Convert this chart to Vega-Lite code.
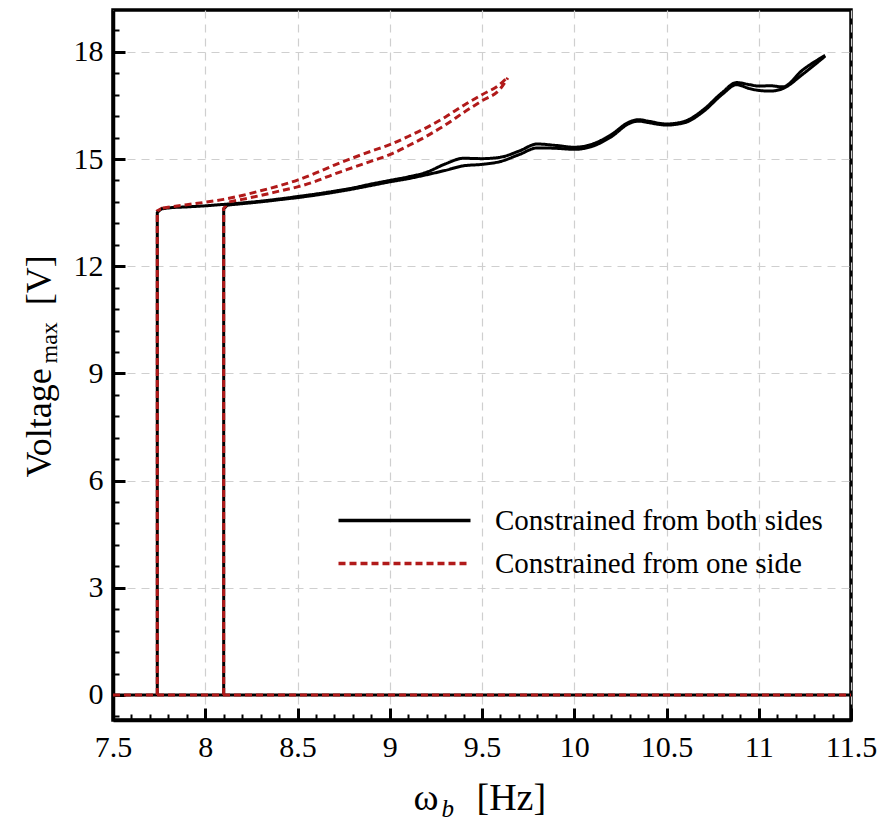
{
  "$schema": "https://vega.github.io/schema/vega-lite/v6.json",
  "width": 738,
  "height": 710,
  "autosize": {"type": "none"},
  "padding": {"left": 113, "top": 10, "right": 34, "bottom": 105},
  "background": "white",
  "config": {
    "font": "Liberation Serif",
    "view": {"stroke": "black", "strokeWidth": 3.5},
    "style": {"guide-label": {"font": "Liberation Serif"}, "guide-title": {"font": "Liberation Serif"}},
    "axis": {
      "labelFont": "Liberation Serif",
      "labelFontSize": 30,
      "labelColor": "black",
      "labelFlush": false,
      "labelOverlap": false,
      "titleFont": "Liberation Serif",
      "titleFontWeight": "normal",
      "titleColor": "black",
      "tickColor": "black",
      "domainColor": "black",
      "gridColor": "#cfcfcf",
      "gridDash": [8, 6],
      "gridWidth": 1.2
    },
    "legend": {
      "labelFont": "Liberation Serif",
      "labelFontSize": 29,
      "labelColor": "black",
      "labelLimit": 0
    }
  },
  "datasets": {
    "curves": [
      {"t": "Constrained from both sides", "s": "v", "b": "B0", "o": 0, "x": 7.5, "y": 0},
      {"t": "Constrained from both sides", "s": "v", "b": "B0", "o": 1, "x": 11.5, "y": 0},
      {"t": "Constrained from both sides", "s": "v", "b": "V1", "o": 0, "x": 7.74, "y": 0},
      {"t": "Constrained from both sides", "s": "v", "b": "V1", "o": 1, "x": 7.74, "y": 13.5},
      {"t": "Constrained from both sides", "s": "v", "b": "V1", "o": 2, "x": 7.76, "y": 13.6},
      {"t": "Constrained from both sides", "s": "v", "b": "V2", "o": 0, "x": 8.1, "y": 0},
      {"t": "Constrained from both sides", "s": "v", "b": "V2", "o": 1, "x": 8.1, "y": 13.6},
      {"t": "Constrained from both sides", "s": "v", "b": "V2", "o": 2, "x": 8.12, "y": 13.71},
      {"t": "Constrained from both sides", "s": "c", "b": "B1", "o": 3, "x": 7.76, "y": 13.6},
      {"t": "Constrained from both sides", "s": "c", "b": "B1", "o": 4, "x": 7.8, "y": 13.63},
      {"t": "Constrained from both sides", "s": "c", "b": "B1", "o": 5, "x": 7.9, "y": 13.66},
      {"t": "Constrained from both sides", "s": "c", "b": "B1", "o": 6, "x": 8.0, "y": 13.69},
      {"t": "Constrained from both sides", "s": "c", "b": "B1", "o": 7, "x": 8.1, "y": 13.73},
      {"t": "Constrained from both sides", "s": "c", "b": "B1", "o": 8, "x": 8.2, "y": 13.77},
      {"t": "Constrained from both sides", "s": "c", "b": "B1", "o": 9, "x": 8.3, "y": 13.82},
      {"t": "Constrained from both sides", "s": "c", "b": "B1", "o": 10, "x": 8.4, "y": 13.88},
      {"t": "Constrained from both sides", "s": "c", "b": "B1", "o": 11, "x": 8.5, "y": 13.95},
      {"t": "Constrained from both sides", "s": "c", "b": "B1", "o": 12, "x": 8.6, "y": 14.02},
      {"t": "Constrained from both sides", "s": "c", "b": "B1", "o": 13, "x": 8.7, "y": 14.1},
      {"t": "Constrained from both sides", "s": "c", "b": "B1", "o": 14, "x": 8.8, "y": 14.19},
      {"t": "Constrained from both sides", "s": "c", "b": "B1", "o": 15, "x": 8.9, "y": 14.3},
      {"t": "Constrained from both sides", "s": "c", "b": "B1", "o": 16, "x": 9.0, "y": 14.4},
      {"t": "Constrained from both sides", "s": "c", "b": "B1", "o": 17, "x": 9.1, "y": 14.5},
      {"t": "Constrained from both sides", "s": "c", "b": "B1", "o": 18, "x": 9.2, "y": 14.63},
      {"t": "Constrained from both sides", "s": "c", "b": "B1", "o": 19, "x": 9.3, "y": 14.86},
      {"t": "Constrained from both sides", "s": "c", "b": "B1", "o": 20, "x": 9.4, "y": 15.02},
      {"t": "Constrained from both sides", "s": "c", "b": "B1", "o": 21, "x": 9.5, "y": 15.01},
      {"t": "Constrained from both sides", "s": "c", "b": "B1", "o": 22, "x": 9.6, "y": 15.05},
      {"t": "Constrained from both sides", "s": "c", "b": "B1", "o": 23, "x": 9.7, "y": 15.22},
      {"t": "Constrained from both sides", "s": "c", "b": "B1", "o": 24, "x": 9.8, "y": 15.42},
      {"t": "Constrained from both sides", "s": "c", "b": "B1", "o": 25, "x": 9.9, "y": 15.38},
      {"t": "Constrained from both sides", "s": "c", "b": "B1", "o": 26, "x": 10.0, "y": 15.33},
      {"t": "Constrained from both sides", "s": "c", "b": "B1", "o": 27, "x": 10.1, "y": 15.42},
      {"t": "Constrained from both sides", "s": "c", "b": "B1", "o": 28, "x": 10.2, "y": 15.68},
      {"t": "Constrained from both sides", "s": "c", "b": "B1", "o": 29, "x": 10.3, "y": 16.04},
      {"t": "Constrained from both sides", "s": "c", "b": "B1", "o": 30, "x": 10.35, "y": 16.1},
      {"t": "Constrained from both sides", "s": "c", "b": "B1", "o": 31, "x": 10.4, "y": 16.06},
      {"t": "Constrained from both sides", "s": "c", "b": "B1", "o": 32, "x": 10.5, "y": 15.98},
      {"t": "Constrained from both sides", "s": "c", "b": "B1", "o": 33, "x": 10.6, "y": 16.06},
      {"t": "Constrained from both sides", "s": "c", "b": "B1", "o": 34, "x": 10.7, "y": 16.38},
      {"t": "Constrained from both sides", "s": "c", "b": "B1", "o": 35, "x": 10.8, "y": 16.85},
      {"t": "Constrained from both sides", "s": "c", "b": "B1", "o": 36, "x": 10.88, "y": 17.14},
      {"t": "Constrained from both sides", "s": "c", "b": "B1", "o": 37, "x": 10.95, "y": 17.08},
      {"t": "Constrained from both sides", "s": "c", "b": "B1", "o": 38, "x": 11.0, "y": 17.04},
      {"t": "Constrained from both sides", "s": "c", "b": "B1", "o": 39, "x": 11.06, "y": 17.05},
      {"t": "Constrained from both sides", "s": "c", "b": "B1", "o": 40, "x": 11.13, "y": 17.02},
      {"t": "Constrained from both sides", "s": "c", "b": "B1", "o": 41, "x": 11.24, "y": 17.5},
      {"t": "Constrained from both sides", "s": "c", "b": "B1", "o": 42, "x": 11.36, "y": 17.9},
      {"t": "Constrained from both sides", "s": "c", "b": "B2", "o": 2, "x": 8.12, "y": 13.71},
      {"t": "Constrained from both sides", "s": "c", "b": "B2", "o": 3, "x": 8.2, "y": 13.75},
      {"t": "Constrained from both sides", "s": "c", "b": "B2", "o": 4, "x": 8.3, "y": 13.8},
      {"t": "Constrained from both sides", "s": "c", "b": "B2", "o": 5, "x": 8.4, "y": 13.86},
      {"t": "Constrained from both sides", "s": "c", "b": "B2", "o": 6, "x": 8.5, "y": 13.92},
      {"t": "Constrained from both sides", "s": "c", "b": "B2", "o": 7, "x": 8.6, "y": 13.99},
      {"t": "Constrained from both sides", "s": "c", "b": "B2", "o": 8, "x": 8.7, "y": 14.07},
      {"t": "Constrained from both sides", "s": "c", "b": "B2", "o": 9, "x": 8.8, "y": 14.16},
      {"t": "Constrained from both sides", "s": "c", "b": "B2", "o": 10, "x": 8.9, "y": 14.26},
      {"t": "Constrained from both sides", "s": "c", "b": "B2", "o": 11, "x": 9.0, "y": 14.36},
      {"t": "Constrained from both sides", "s": "c", "b": "B2", "o": 12, "x": 9.1, "y": 14.45},
      {"t": "Constrained from both sides", "s": "c", "b": "B2", "o": 13, "x": 9.2, "y": 14.56},
      {"t": "Constrained from both sides", "s": "c", "b": "B2", "o": 14, "x": 9.3, "y": 14.68},
      {"t": "Constrained from both sides", "s": "c", "b": "B2", "o": 15, "x": 9.4, "y": 14.81},
      {"t": "Constrained from both sides", "s": "c", "b": "B2", "o": 16, "x": 9.5, "y": 14.85},
      {"t": "Constrained from both sides", "s": "c", "b": "B2", "o": 17, "x": 9.6, "y": 14.93},
      {"t": "Constrained from both sides", "s": "c", "b": "B2", "o": 18, "x": 9.7, "y": 15.12},
      {"t": "Constrained from both sides", "s": "c", "b": "B2", "o": 19, "x": 9.8, "y": 15.31},
      {"t": "Constrained from both sides", "s": "c", "b": "B2", "o": 20, "x": 9.9, "y": 15.3},
      {"t": "Constrained from both sides", "s": "c", "b": "B2", "o": 21, "x": 10.0, "y": 15.27},
      {"t": "Constrained from both sides", "s": "c", "b": "B2", "o": 22, "x": 10.1, "y": 15.36},
      {"t": "Constrained from both sides", "s": "c", "b": "B2", "o": 23, "x": 10.2, "y": 15.62},
      {"t": "Constrained from both sides", "s": "c", "b": "B2", "o": 24, "x": 10.3, "y": 16.0},
      {"t": "Constrained from both sides", "s": "c", "b": "B2", "o": 25, "x": 10.35, "y": 16.06},
      {"t": "Constrained from both sides", "s": "c", "b": "B2", "o": 26, "x": 10.4, "y": 16.02},
      {"t": "Constrained from both sides", "s": "c", "b": "B2", "o": 27, "x": 10.5, "y": 15.95},
      {"t": "Constrained from both sides", "s": "c", "b": "B2", "o": 28, "x": 10.6, "y": 16.02},
      {"t": "Constrained from both sides", "s": "c", "b": "B2", "o": 29, "x": 10.7, "y": 16.33},
      {"t": "Constrained from both sides", "s": "c", "b": "B2", "o": 30, "x": 10.8, "y": 16.8},
      {"t": "Constrained from both sides", "s": "c", "b": "B2", "o": 31, "x": 10.88, "y": 17.08},
      {"t": "Constrained from both sides", "s": "c", "b": "B2", "o": 32, "x": 10.95, "y": 16.97},
      {"t": "Constrained from both sides", "s": "c", "b": "B2", "o": 33, "x": 11.0, "y": 16.92},
      {"t": "Constrained from both sides", "s": "c", "b": "B2", "o": 34, "x": 11.06, "y": 16.9},
      {"t": "Constrained from both sides", "s": "c", "b": "B2", "o": 35, "x": 11.13, "y": 16.97},
      {"t": "Constrained from both sides", "s": "c", "b": "B2", "o": 36, "x": 11.24, "y": 17.38},
      {"t": "Constrained from both sides", "s": "c", "b": "B2", "o": 37, "x": 11.36, "y": 17.88},
      {"t": "Constrained from one side", "s": "v", "b": "R0", "o": 0, "x": 7.5, "y": 0},
      {"t": "Constrained from one side", "s": "v", "b": "R0", "o": 1, "x": 11.5, "y": 0},
      {"t": "Constrained from one side", "s": "v", "b": "W1", "o": 0, "x": 7.74, "y": 0},
      {"t": "Constrained from one side", "s": "v", "b": "W1", "o": 1, "x": 7.74, "y": 13.55},
      {"t": "Constrained from one side", "s": "v", "b": "W1", "o": 2, "x": 7.77, "y": 13.63},
      {"t": "Constrained from one side", "s": "v", "b": "W2", "o": 0, "x": 8.1, "y": 0},
      {"t": "Constrained from one side", "s": "v", "b": "W2", "o": 1, "x": 8.1, "y": 13.62},
      {"t": "Constrained from one side", "s": "v", "b": "W2", "o": 2, "x": 8.13, "y": 13.8},
      {"t": "Constrained from one side", "s": "c", "b": "R1", "o": 2, "x": 7.77, "y": 13.63},
      {"t": "Constrained from one side", "s": "c", "b": "R1", "o": 3, "x": 7.9, "y": 13.72},
      {"t": "Constrained from one side", "s": "c", "b": "R1", "o": 4, "x": 8.0, "y": 13.79},
      {"t": "Constrained from one side", "s": "c", "b": "R1", "o": 5, "x": 8.1, "y": 13.87},
      {"t": "Constrained from one side", "s": "c", "b": "R1", "o": 6, "x": 8.2, "y": 13.98},
      {"t": "Constrained from one side", "s": "c", "b": "R1", "o": 7, "x": 8.3, "y": 14.11},
      {"t": "Constrained from one side", "s": "c", "b": "R1", "o": 8, "x": 8.4, "y": 14.25},
      {"t": "Constrained from one side", "s": "c", "b": "R1", "o": 9, "x": 8.5, "y": 14.41},
      {"t": "Constrained from one side", "s": "c", "b": "R1", "o": 10, "x": 8.6, "y": 14.61},
      {"t": "Constrained from one side", "s": "c", "b": "R1", "o": 11, "x": 8.7, "y": 14.83},
      {"t": "Constrained from one side", "s": "c", "b": "R1", "o": 12, "x": 8.8, "y": 15.03},
      {"t": "Constrained from one side", "s": "c", "b": "R1", "o": 13, "x": 8.9, "y": 15.22},
      {"t": "Constrained from one side", "s": "c", "b": "R1", "o": 14, "x": 9.0, "y": 15.4},
      {"t": "Constrained from one side", "s": "c", "b": "R1", "o": 15, "x": 9.1, "y": 15.63},
      {"t": "Constrained from one side", "s": "c", "b": "R1", "o": 16, "x": 9.2, "y": 15.88},
      {"t": "Constrained from one side", "s": "c", "b": "R1", "o": 17, "x": 9.3, "y": 16.17},
      {"t": "Constrained from one side", "s": "c", "b": "R1", "o": 18, "x": 9.4, "y": 16.5},
      {"t": "Constrained from one side", "s": "c", "b": "R1", "o": 19, "x": 9.5, "y": 16.8},
      {"t": "Constrained from one side", "s": "c", "b": "R1", "o": 20, "x": 9.6, "y": 17.1},
      {"t": "Constrained from one side", "s": "c", "b": "R1", "o": 21, "x": 9.64, "y": 17.3},
      {"t": "Constrained from one side", "s": "c", "b": "R2", "o": 2, "x": 8.13, "y": 13.8},
      {"t": "Constrained from one side", "s": "c", "b": "R2", "o": 3, "x": 8.2, "y": 13.87},
      {"t": "Constrained from one side", "s": "c", "b": "R2", "o": 4, "x": 8.3, "y": 13.98},
      {"t": "Constrained from one side", "s": "c", "b": "R2", "o": 5, "x": 8.4, "y": 14.1},
      {"t": "Constrained from one side", "s": "c", "b": "R2", "o": 6, "x": 8.5, "y": 14.22},
      {"t": "Constrained from one side", "s": "c", "b": "R2", "o": 7, "x": 8.6, "y": 14.38},
      {"t": "Constrained from one side", "s": "c", "b": "R2", "o": 8, "x": 8.7, "y": 14.58},
      {"t": "Constrained from one side", "s": "c", "b": "R2", "o": 9, "x": 8.8, "y": 14.76},
      {"t": "Constrained from one side", "s": "c", "b": "R2", "o": 10, "x": 8.9, "y": 14.94},
      {"t": "Constrained from one side", "s": "c", "b": "R2", "o": 11, "x": 9.0, "y": 15.12},
      {"t": "Constrained from one side", "s": "c", "b": "R2", "o": 12, "x": 9.1, "y": 15.37},
      {"t": "Constrained from one side", "s": "c", "b": "R2", "o": 13, "x": 9.2, "y": 15.64},
      {"t": "Constrained from one side", "s": "c", "b": "R2", "o": 14, "x": 9.3, "y": 15.95},
      {"t": "Constrained from one side", "s": "c", "b": "R2", "o": 15, "x": 9.4, "y": 16.3},
      {"t": "Constrained from one side", "s": "c", "b": "R2", "o": 16, "x": 9.5, "y": 16.63},
      {"t": "Constrained from one side", "s": "c", "b": "R2", "o": 17, "x": 9.6, "y": 16.97},
      {"t": "Constrained from one side", "s": "c", "b": "R2", "o": 18, "x": 9.64, "y": 17.27}
    ]
  },
  "layer": [
    {
      "data": {"name": "curves"},
      "transform": [{"filter": "datum.s === 'v'"}],
      "mark": {"type": "line", "strokeWidth": 3},
      "encoding": {
        "x": {
          "field": "x", "type": "quantitative",
          "scale": {"domain": [7.5, 11.5], "nice": false, "zero": false},
          "axis": {
            "orient": "bottom",
            "values": [7.5, 8, 8.5, 9, 9.5, 10, 10.5, 11, 11.5],
            "format": "~g",
            "tickSize": -12, "tickWidth": 3,
            "domainWidth": 3.5,
            "grid": true,
            "labelFont": "Liberation Serif", "labelFontSize": 30, "labelColor": "black",
            "labelPadding": 24,
            "title": "ω\u00a0\u00a0\u00a0\u00a0[Hz]",
            "titleFont": "Liberation Serif",
            "titleFontSize": 38,
            "titleAnchor": "start",
            "titleX": 300, "titleY": 89,
            "titleAlign": "left", "titleBaseline": "alphabetic"
          }
        },
        "y": {
          "field": "y", "type": "quantitative",
          "scale": {"domain": [-0.7, 19.17], "nice": false, "zero": false},
          "axis": {
            "orient": "left",
            "values": [0, 3, 6, 9, 12, 15, 18],
            "format": "~g",
            "tickSize": -12, "tickWidth": 3,
            "domainWidth": 3.5,
            "grid": true,
            "labelFont": "Liberation Serif", "labelFontSize": 30, "labelColor": "black",
            "labelPadding": 22,
            "title": "Voltage\u00a0\u00a0\u00a0\u00a0\u00a0\u00a0\u00a0[V]",
            "titleFont": "Liberation Serif",
            "titleFontSize": 36,
            "titleAngle": 270,
            "titleAnchor": "start",
            "titleX": -63, "titleY": 467,
            "titleAlign": "left", "titleBaseline": "alphabetic"
          }
        },
        "color": {
          "field": "t", "type": "nominal",
          "scale": {"domain": ["Constrained from both sides", "Constrained from one side"], "range": ["#000000", "#b11a1a"]},
          "legend": {"title": null, "orient": "none", "legendX": 273, "legendY": 492, "symbolType": "M-4,0H4", "symbolSize": 1089, "symbolStrokeWidth": 3.5, "labelOffset": 72, "rowPadding": 9, "padding": 0, "labelFont": "Liberation Serif", "labelFontSize": 29, "labelColor": "black"}
        },
        "strokeDash": {
          "field": "t", "type": "nominal",
          "scale": {"domain": ["Constrained from both sides", "Constrained from one side"], "range": [[1, 0], [7, 4]]},
          "legend": {"title": null, "orient": "none", "legendX": 273, "legendY": 492, "symbolType": "M-4,0H4", "symbolSize": 1089, "symbolStrokeWidth": 3.5, "labelOffset": 72, "rowPadding": 9, "padding": 0, "labelFont": "Liberation Serif", "labelFontSize": 29, "labelColor": "black"}
        },
        "detail": {"field": "b", "type": "nominal"},
        "order": {"field": "o", "type": "quantitative"}
      }
    },
    {
      "data": {"name": "curves"},
      "transform": [{"filter": "datum.s === 'c'"}],
      "mark": {"type": "line", "strokeWidth": 3, "interpolate": "monotone"},
      "encoding": {
        "x": {"field": "x", "type": "quantitative", "scale": {"domain": [7.5, 11.5], "nice": false, "zero": false}, "axis": null},
        "y": {"field": "y", "type": "quantitative", "scale": {"domain": [-0.7, 19.17], "nice": false, "zero": false}, "axis": null},
        "color": {
          "field": "t", "type": "nominal",
          "scale": {"domain": ["Constrained from both sides", "Constrained from one side"], "range": ["#000000", "#b11a1a"]},
          "legend": {"title": null, "orient": "none", "legendX": 273, "legendY": 492, "symbolType": "M-4,0H4", "symbolSize": 1089, "symbolStrokeWidth": 3.5, "labelOffset": 72, "rowPadding": 9, "padding": 0, "labelFont": "Liberation Serif", "labelFontSize": 29, "labelColor": "black"}
        },
        "strokeDash": {
          "field": "t", "type": "nominal",
          "scale": {"domain": ["Constrained from both sides", "Constrained from one side"], "range": [[1, 0], [7, 4]]},
          "legend": {"title": null, "orient": "none", "legendX": 273, "legendY": 492, "symbolType": "M-4,0H4", "symbolSize": 1089, "symbolStrokeWidth": 3.5, "labelOffset": 72, "rowPadding": 9, "padding": 0, "labelFont": "Liberation Serif", "labelFontSize": 29, "labelColor": "black"}
        },
        "detail": {"field": "b", "type": "nominal"},
        "order": {"field": "o", "type": "quantitative"}
      }
    },
    {
      "data": {"name": "curves"},
      "mark": {"type": "point", "opacity": 0, "size": 0},
      "encoding": {
        "x": {
          "field": "x", "type": "quantitative",
          "scale": {"domain": [7.5, 11.5], "nice": false, "zero": false},
          "axis": {
            "orient": "bottom",
            "values": [7.5, 7.6, 7.7, 7.8, 7.9, 8, 8.1, 8.2, 8.3, 8.4, 8.5, 8.6, 8.7, 8.8, 8.9, 9, 9.1, 9.2, 9.3, 9.4, 9.5, 9.6, 9.7, 9.8, 9.9, 10, 10.1, 10.2, 10.3, 10.4, 10.5, 10.6, 10.7, 10.8, 10.9, 11, 11.1, 11.2, 11.3, 11.4, 11.5],
            "labels": false, "domain": false, "grid": false,
            "tickSize": -6, "tickWidth": 2,
            "title": "b",
            "titleFont": "Liberation Serif",
            "titleFontSize": 25, "titleFontStyle": "italic",
            "titleAnchor": "start",
            "titleX": 328, "titleY": 96,
            "titleAlign": "left", "titleBaseline": "alphabetic"
          }
        },
        "y": {
          "field": "y", "type": "quantitative",
          "scale": {"domain": [-0.7, 19.17], "nice": false, "zero": false},
          "axis": {
            "orient": "left",
            "values": [-0.6, 0, 0.6, 1.2, 1.8, 2.4, 3, 3.6, 4.2, 4.8, 5.4, 6, 6.6, 7.2, 7.8, 8.4, 9, 9.6, 10.2, 10.8, 11.4, 12, 12.6, 13.2, 13.8, 14.4, 15, 15.6, 16.2, 16.8, 17.4, 18, 18.6],
            "labels": false, "domain": false, "grid": false,
            "tickSize": -6, "tickWidth": 2,
            "title": "max",
            "titleFont": "Liberation Serif",
            "titleFontSize": 24,
            "titleAngle": 270,
            "titleAnchor": "start",
            "titleX": -57, "titleY": 353,
            "titleAlign": "left", "titleBaseline": "alphabetic"
          }
        }
      }
    }
  ],
  "resolve": {"axis": {"x": "independent", "y": "independent"}}
}
